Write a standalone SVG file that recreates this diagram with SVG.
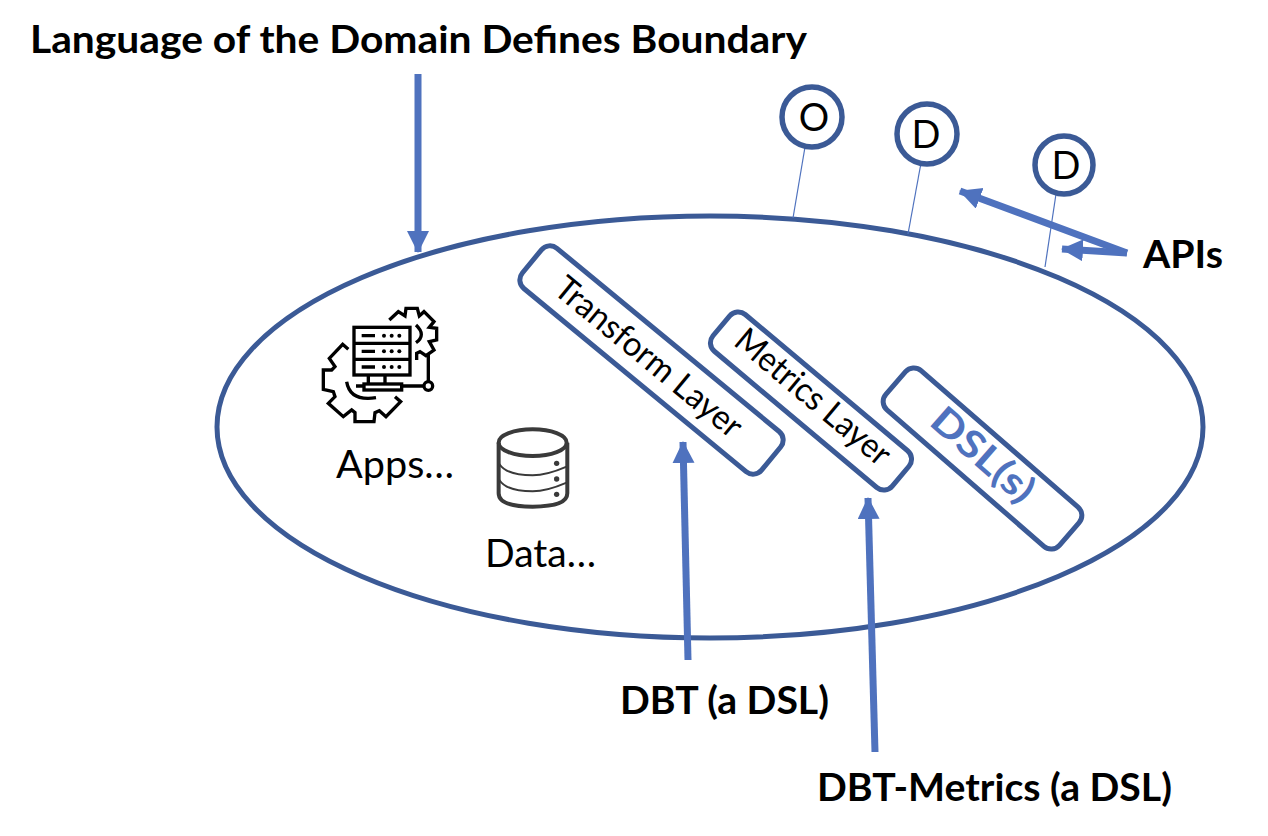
<svg xmlns="http://www.w3.org/2000/svg" width="1268" height="836" viewBox="0 0 1268 836">
<style>
text{font-family:Lato,"Open Sans","Liberation Sans",sans-serif;fill:#000}
.b{font-weight:700;font-size:38px}
.r{font-size:38px}
.q{font-size:34px}
.s{fill:#fff;stroke:#3B5A96;stroke-width:5}
.c{fill:#fff;stroke:#3B5A96;stroke-width:5.5}
.a{fill:none;stroke:#4F72BE;stroke-width:7;marker-end:url(#ah)}
.t{stroke:#4F72BE;stroke-width:1.2;fill:none}
.ic{fill:none;stroke:#000;stroke-width:10;stroke-linejoin:miter}
</style>
<defs>
<marker id="ah" markerUnits="userSpaceOnUse" markerWidth="24" markerHeight="24" refX="21" refY="11" orient="auto"><path d="M0,0L22,11L0,22Z" fill="#4F72BE"/></marker>
</defs>
<rect width="1268" height="836" fill="#fff"/>
<g id="boundary"><ellipse cx="710" cy="427" rx="493" ry="211" fill="none" stroke="#3B5A96" stroke-width="5"/></g>
<g id="connectors">
<path class="t" d="M805,147L793,218"/>
<path class="t" d="M921,163L908,234"/>
<path class="t" d="M1056,194L1045,267"/>
<path class="a" d="M418,74V252"/>
<path class="a" d="M688,660L683,442"/>
<path class="a" d="M875,752L868,498"/>
<path class="a" d="M1127,253L960,191"/>
<path class="a" d="M1127,253L1062,249"/>
</g>
<g id="api-o"><circle class="c" cx="812" cy="117" r="30"/><text class="r" x="814" y="131" text-anchor="middle">O</text></g>
<g id="api-d1"><circle class="c" cx="927" cy="134" r="30"/><text class="r" x="926" y="148" text-anchor="middle">D</text></g>
<g id="api-d2"><circle class="c" cx="1064" cy="165" r="29"/><text class="r" x="1066" y="179" text-anchor="middle">D</text></g>
<g id="transform-layer" transform="translate(651.5,360) rotate(39.5)"><rect class="s" x="-155" y="-26" width="310" height="52" rx="11"/><text class="q" x="-4" y="11" text-anchor="middle" textLength="232" lengthAdjust="spacingAndGlyphs">Transform Layer</text></g>
<g id="metrics-layer" transform="translate(811,401) rotate(40)"><rect class="s" x="-117" y="-24" width="234" height="48" rx="11"/><text class="q" x="-1" y="7" text-anchor="middle" textLength="192" lengthAdjust="spacingAndGlyphs">Metrics Layer</text></g>
<g id="dsl" transform="translate(982.5,458.5) rotate(41)"><rect class="s" x="-115" y="-26" width="230" height="52" rx="11"/><text x="-2" y="10" text-anchor="middle" font-size="38" font-weight="700" style="fill:#4F72BE" textLength="124" lengthAdjust="spacingAndGlyphs">DSL(s)</text></g>
<g id="apps">
<g transform="translate(300,290) scale(0.3333)">
<path class="ic" d="M145,178L128,163L88,205L105,230L95,240H70V298L100,305L105,320L85,340L130,380L155,360L165,368V395H222L225,368L238,362L258,380L302,335L285,320"/>
<path class="ic" d="M140,275Q150,335 228,323"/>
<path class="ic" d="M268,90L295,65L315,78L318,55H352L358,78L372,65L402,95L388,112L410,115V150L388,155L402,180L378,197L360,185L350,190V210"/>
<path class="ic" d="M348,105Q380,135 348,158"/>
<rect class="ic" x="162" y="112" width="168" height="143"/>
<path class="ic" d="M162,160H330M162,208H330M205,258V282M255,258V282M168,288H192M305,288H372M385,275V190"/>
<rect class="ic" x="192" y="282" width="113" height="18"/>
<circle class="ic" cx="385" cy="288" r="13"/>
<path class="ic" d="M185,137H225M185,184H225M185,231H225"/>
<g fill="#000"><circle cx="252" cy="137" r="6"/><circle cx="275" cy="137" r="6"/><circle cx="298" cy="137" r="6"/><circle cx="252" cy="184" r="6"/><circle cx="275" cy="184" r="6"/><circle cx="298" cy="184" r="6"/><circle cx="252" cy="231" r="6"/><circle cx="275" cy="231" r="6"/><circle cx="298" cy="231" r="6"/></g>
</g>
<text class="r" x="336" y="478" textLength="118" lengthAdjust="spacingAndGlyphs">Apps…</text>
</g>
<g id="data">
<g transform="translate(300,290) scale(0.3333)" fill="none" stroke="#3A3A3A">
<ellipse cx="698" cy="458" rx="102" ry="40" stroke-width="12"/>
<path stroke-width="12" d="M596,458V610Q596,650 698,650Q802,650 802,610V458"/>
<path stroke-width="6" d="M598,522Q620,556 698,556Q740,556 800,530M598,570Q620,604 698,604Q740,604 800,578"/>
<g fill="#3A3A3A" stroke="none"><circle cx="770" cy="520" r="8"/><circle cx="770" cy="567" r="8"/><circle cx="770" cy="613" r="8"/></g>
</g>
<text class="r" x="485" y="567" textLength="111" lengthAdjust="spacingAndGlyphs">Data…</text>
</g>
<g id="labels">
<text class="b" x="30" y="53" textLength="777" lengthAdjust="spacingAndGlyphs">Language of the Domain Defines Boundary</text>
<text class="b" x="1143" y="268" textLength="80" lengthAdjust="spacingAndGlyphs">APIs</text>
<text class="b" x="620" y="714" textLength="209" lengthAdjust="spacingAndGlyphs">DBT (a DSL)</text>
<text class="b" x="817" y="801" textLength="355" lengthAdjust="spacingAndGlyphs">DBT-Metrics (a DSL)</text>
</g>
</svg>
